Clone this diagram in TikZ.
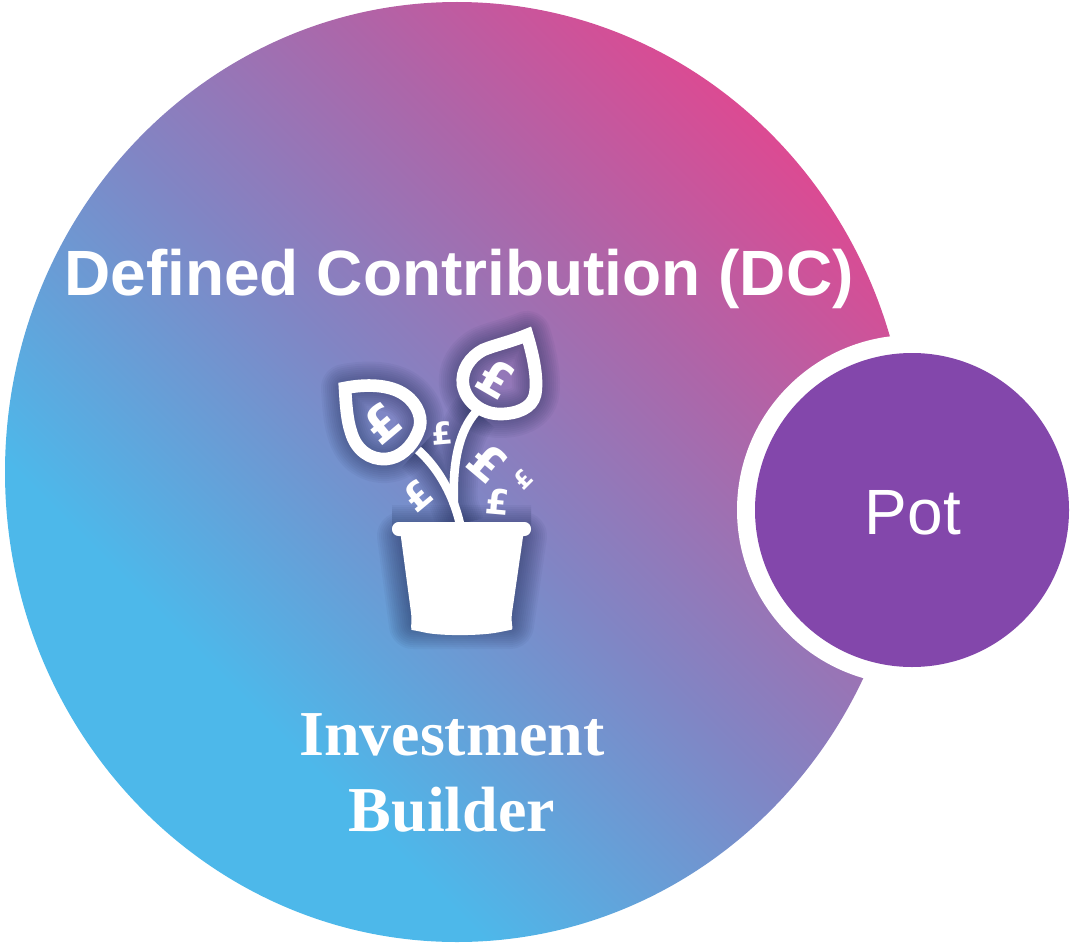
\documentclass[tikz,border=0pt]{standalone}
\usepackage{fontspec}
\setmainfont{Liberation Sans}
\newfontfamily\serifb{Liberation Serif}
\newfontfamily\poundf{DejaVu Sans}
\definecolor{potc}{HTML}{8347AB}
\definecolor{cA}{HTML}{4DB8EA}
\definecolor{cB}{HTML}{8185C4}
\definecolor{cC}{HTML}{AD66A9}
\definecolor{cD}{HTML}{E3468F}
\definecolor{glow}{HTML}{1F2A55}
\pgfdeclarehorizontalshading{dcgrad}{100bp}{
 color(0bp)=(cA); color(33bp)=(cA); color(50bp)=(cB); color(63bp)=(cC); color(77bp)=(cD); color(100bp)=(cD)}
\tikzset{
 px/.style={x=0.75pt,y=-0.75pt},
 pound/.style={text=white,inner sep=0pt},
 label/.style={text=white,inner sep=0pt},
 glowline/.style={draw=glow,opacity=0.05,line join=round},
}
\def\leafL{(345,388) .. controls (365,384) and (390,384) .. (405,395) .. controls (418,404) and (424,420) .. (418,432) .. controls (412,447) and (400,458) .. (386,459) .. controls (370,460) and (356,450) .. (351,432) .. controls (347,420) and (346,405) .. (345,388) -- cycle}
\def\leafR{(527,335) .. controls (510,342) and (495,345) .. (483,350) .. controls (470,357) and (461,370) .. (463,385) .. controls (466,402) and (482,414) .. (500,414) .. controls (517,414) and (532,408) .. (535,395) .. controls (538,380) and (534,358) .. (527,335) -- cycle}
\def\stemL{(418,450) .. controls (435,465) and (452,490) .. (460,524)}
\def\stemR{(476,412) .. controls (460,430) and (452,460) .. (454,505)}
\begin{document}
\begin{tikzpicture}[px]
\useasboundingbox (0,0) rectangle (1073,945);
\shade[shading=dcgrad,shading angle=45] (457,472) ellipse [x radius=452,y radius=470];
\fill[white] (912,510) circle (175);
\node[circle,fill=potc,minimum size=235.5pt,inner sep=0pt] (pot) at (912,510) {};
\node[label,font=\fontsize{48}{48}\selectfont] (pottext) at (913,513) {Pot};
\node[label,font=\bfseries\fontsize{48}{48}\selectfont] (dc) at (459,279) {Defined Contribution (DC)};
\node[label,align=center,font=\serifb\bfseries\fontsize{48}{57}\selectfont] (ib) at (452,773) {Investment\\Builder};
% glow
\foreach \w in {4,8,...,48}{
 \draw[glowline,line width=\w*0.75pt] \leafL;
 \draw[glowline,line width=\w*0.75pt] \leafR;
 \draw[glowline,line width=\w*0.75pt] (392,529) -- (531,529) (401,536) -- (523,536) -- (510,625) -- (413,625) -- cycle;
 \draw[glowline,line width=\w*0.75pt] \stemL \stemR;
}
% stems
\draw[white,line width=6.5pt] \stemL;
\draw[white,line width=6.5pt] \stemR;
% leaves
\draw[white,line width=9.5pt,line join=miter] \leafL;
\draw[white,line width=9.5pt,line join=miter] \leafR;
% pot
\fill[white,rounded corners=5pt] (392,522) rectangle (531,536);
\fill[white,rounded corners=5pt] (400,530) -- (524,530) -- (511,620) .. controls (513,630) and (510,630) .. (505,631) .. controls (480,636) and (440,636) .. (418,631) .. controls (412,630) and (411,627) .. (412,620) -- cycle;
% pounds
\node[pound,rotate=40,font=\poundf\bfseries\fontsize{36}{36}\selectfont] (p1) at (382,423) {£};
\node[pound,rotate=-30,font=\poundf\bfseries\fontsize{36}{36}\selectfont] (p2) at (496,378) {£};
\node[pound,rotate=5,font=\poundf\bfseries\fontsize{23}{23}\selectfont] (p3) at (442,433) {£};
\node[pound,rotate=40,font=\poundf\bfseries\fontsize{28}{28}\selectfont] (p4) at (418,496) {£};
\node[pound,rotate=-40,font=\poundf\bfseries\fontsize{36}{36}\selectfont] (p5) at (488,463) {£};
\node[pound,rotate=45,font=\poundf\bfseries\fontsize{18}{18}\selectfont] (p6) at (523,479) {£};
\node[pound,rotate=-5,font=\poundf\bfseries\fontsize{26}{26}\selectfont] (p7) at (498,502) {£};
\end{tikzpicture}
\end{document}
